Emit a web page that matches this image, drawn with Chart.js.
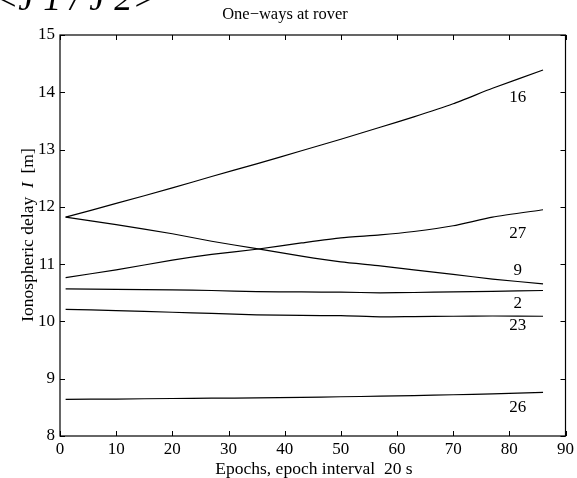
<html lang="en">
<head>
  <meta charset="UTF-8">
  <title>One-ways at rover</title>
  <script src="https://cdn.jsdelivr.net/npm/chart.js"></script>
  <style>
    body, html {
      margin: 0;
      padding: 0;
      background-color: #ffffff;
    }
    #wrap {
      width: 577px;
      height: 478px;
      position: relative;
    }
  </style>
</head>
<body>
  <div id="wrap"><canvas id="myChart" width="577" height="478"></canvas></div>

  <script>
    // epochs at which the curves are sampled
    const epochs = [1, 10, 20, 27, 35, 43, 50, 57, 63, 70, 77, 86];

    // satellite PRNs and their ionospheric delays [m]
    const satNames = ['16', '27', '9', '2', '23', '26'];
    const sat16 = [11.82, 12.06, 12.33, 12.53, 12.75, 12.98, 13.18, 13.39, 13.57, 13.80, 14.07, 14.39];
    const sat27 = [10.765, 10.90, 11.07, 11.17, 11.26, 11.37, 11.46, 11.51, 11.57, 11.67, 11.82, 11.95];
    const sat9  = [11.82, 11.69, 11.53, 11.40, 11.27, 11.14, 11.04, 10.97, 10.90, 10.82, 10.74, 10.655];
    const sat2  = [10.57, 10.56, 10.55, 10.54, 10.52, 10.515, 10.51, 10.50, 10.505, 10.515, 10.525, 10.54];
    const sat23 = [10.21, 10.19, 10.16, 10.14, 10.115, 10.105, 10.10, 10.08, 10.085, 10.09, 10.095, 10.09];
    const sat26 = [8.64, 8.645, 8.655, 8.66, 8.665, 8.675, 8.685, 8.695, 8.705, 8.72, 8.735, 8.76];
    const seriesValues = [sat16, sat27, sat9, sat2, sat23, sat26];

    // where the PRN labels sit (epoch, delay)
    const labelEpoch = 81.5;
    const labelValues = [13.9, 11.54, 10.89, 10.31, 9.92, 8.49];

    const xTicks = [0, 10, 20, 30, 40, 50, 60, 70, 80, 90];
    const yTicks = [8, 9, 10, 11, 12, 13, 14, 15];

    const serif = '"Liberation Serif", "DejaVu Serif", serif';

    const datasets = seriesValues.map((vals, i) => ({
      label: satNames[i],
      data: epochs.map((e, j) => ({ x: e, y: vals[j] })),
      borderColor: '#000',
      borderWidth: 1.2,
      pointRadius: 0,
      tension: 0.2,
      fill: false
    }));

    const boxPlugin = {
      id: 'boxPlugin',
      afterDraw(chart) {
        const { ctx, chartArea: a, scales } = chart;
        const xs = scales.x, ys = scales.y;
        ctx.save();

        // frame
        ctx.strokeStyle = '#000';
        ctx.lineWidth = 1.2;
        ctx.strokeRect(a.left, a.top, a.right - a.left, a.bottom - a.top);

        // inward ticks on all sides
        const tl = 5;
        ctx.lineWidth = 1;
        ctx.beginPath();
        xTicks.forEach(v => {
          const px = Math.round(xs.getPixelForValue(v)) + 0.5;
          ctx.moveTo(px, a.bottom); ctx.lineTo(px, a.bottom - tl);
          ctx.moveTo(px, a.top); ctx.lineTo(px, a.top + tl);
        });
        yTicks.forEach(v => {
          const py = Math.round(ys.getPixelForValue(v)) + 0.5;
          ctx.moveTo(a.left, py); ctx.lineTo(a.left + tl, py);
          ctx.moveTo(a.right, py); ctx.lineTo(a.right - tl, py);
        });
        ctx.stroke();

        // PRN labels
        ctx.fillStyle = '#000';
        ctx.font = '17px ' + serif;
        ctx.textAlign = 'center';
        ctx.textBaseline = 'middle';
        satNames.forEach((n, i) => {
          ctx.fillText(n, xs.getPixelForValue(labelEpoch), ys.getPixelForValue(labelValues[i]));
        });

        // title
        ctx.font = '16.5px ' + serif;
        ctx.textBaseline = 'alphabetic';
        ctx.fillText('One\u2212ways at rover', 285, 19);

        // clipped heading left over from the previous figure
        ctx.font = 'italic 36px ' + serif;
        ctx.textAlign = 'left';
        ctx.fillText('<J 1 / J 2>', -6, 10);

        // x axis title
        ctx.font = '17.5px ' + serif;
        ctx.textAlign = 'center';
        ctx.fillText('Epochs, epoch interval  20 s', 314, 474);

        // y axis title with italic I
        ctx.translate(33, 235);
        ctx.rotate(-Math.PI / 2);
        const p1 = 'Ionospheric delay  ';
        const p2 = 'I';
        const p3 = '  [m]';
        ctx.font = '17.5px ' + serif;
        const w1 = ctx.measureText(p1).width;
        const w3 = ctx.measureText(p3).width;
        ctx.font = 'italic 17.5px ' + serif;
        const w2 = ctx.measureText(p2).width;
        let x0 = -(w1 + w2 + w3) / 2;
        ctx.textAlign = 'left';
        ctx.font = '17.5px ' + serif;
        ctx.fillText(p1, x0, 0);
        ctx.font = 'italic 17.5px ' + serif;
        ctx.fillText(p2, x0 + w1, 0);
        ctx.font = '17.5px ' + serif;
        ctx.fillText(p3, x0 + w1 + w2, 0);

        ctx.restore();
      }
    };

    const ctx = document.getElementById('myChart').getContext('2d');
    const myChart = new Chart(ctx, {
      type: 'line',
      data: { datasets: datasets },
      options: {
        responsive: false,
        animation: false,
        layout: { padding: 0 },
        plugins: {
          legend: { display: false },
          tooltip: { enabled: false },
          title: { display: false }
        },
        scales: {
          x: {
            type: 'linear',
            position: 'bottom',
            min: 0,
            max: 90,
            afterBuildTicks(scale) {
              scale.ticks = xTicks.map(v => ({ value: v }));
            },
            afterFit(scale) { scale.height = 42; },
            grid: { display: false, drawTicks: false },
            border: { display: false },
            ticks: {
              color: '#000',
              font: { family: serif, size: 17 },
              padding: 3,
              maxRotation: 0,
              autoSkip: false
            }
          },
          y: {
            type: 'linear',
            position: 'left',
            min: 8,
            max: 15,
            afterBuildTicks(scale) {
              scale.ticks = yTicks.map(v => ({ value: v }));
            },
            afterFit(scale) { scale.width = 60; },
            grid: { display: false, drawTicks: false },
            border: { display: false },
            ticks: {
              color: '#000',
              font: { family: serif, size: 17 },
              padding: 5,
              autoSkip: false
            }
          },
          xTop: {
            type: 'linear',
            position: 'top',
            min: 0,
            max: 90,
            afterFit(scale) { scale.height = 35; },
            grid: { display: false, drawTicks: false },
            border: { display: false },
            ticks: { display: false }
          },
          yRight: {
            type: 'linear',
            position: 'right',
            min: 8,
            max: 15,
            afterFit(scale) { scale.width = 9; },
            grid: { display: false, drawTicks: false },
            border: { display: false },
            ticks: { display: false }
          }
        }
      },
      plugins: [boxPlugin]
    });
  </script>
</body>
</html>
